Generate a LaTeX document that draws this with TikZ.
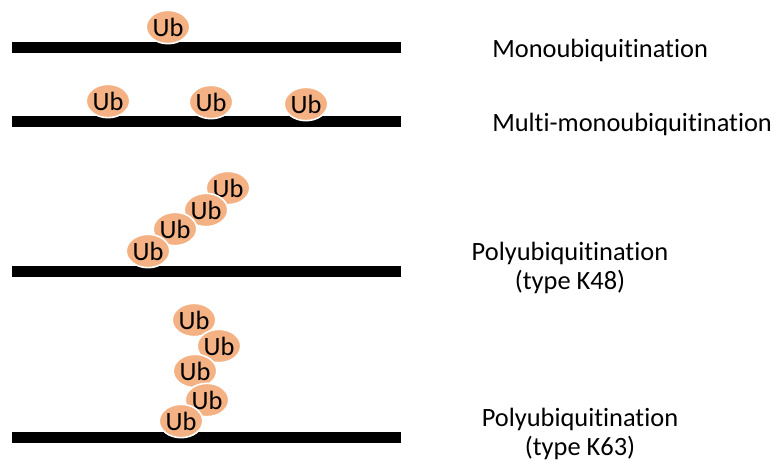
\documentclass[tikz,border=0pt]{standalone}
\usepackage{fontspec}
\setmainfont[Ligatures = NoCommon]{Carlito}
\usepackage{xcolor}
\definecolor{orangeub}{HTML}{F4B183}
\tikzstyle{ligne} = [line width = 8pt, color = black]
\tikzstyle{ub} = [ellipse, fill = orangeub, draw = white, line width = 1.2pt, inner sep = 0pt, minimum width = 28pt, minimum height = 25pt, font = \fontsize{19.8}{21.5}\selectfont]
\tikzstyle{etiquette} = [inner sep = 0pt, align = center, font = \fontsize{19.8}{21.5}\selectfont]
\usetikzlibrary{shapes.geometric, positioning}

\begin{document}
\begin{tikzpicture}[x = 0.75pt, y = -0.75pt]
    	\useasboundingbox (0, 0) rectangle (776, 464);
    	% Proteines
    	\foreach \y in {47.5, 121.5, 271.5, 437.5}
          	\draw[ligne] (12, \y) -- (401, \y);
    	% Mono
    	\node[ub] (mono1) at (168, 27) {Ub};
    	% Multi-mono
    	\foreach \x/\y [count = \i] in {108/101, 211/102, 306/104}
          	\node[ub] (multi\i) at (\x, \y) {Ub};
    	% Chaine K48
    	\foreach \x/\y [count = \i] in {228/188, 206/210, 175/229, 148/251}
          	\node[ub] (ksa\i) at (\x, \y) {Ub};
    	% Chaine K63
    	\foreach \x/\y [count = \i] in {194/320, 219/346, 195/371, 207/400, 181/421}
          	\node[ub] (ksb\i) at (\x, \y) {Ub};
    	% Écriture
    	\node[etiquette, anchor = base west] (tmono) at (492, 57) {Monoubiquitination};
    	\node[etiquette, anchor = base west] (tmulti) at (492, 131) {Multi-monoubiquitination};
    	\node[etiquette] (tksa) at (570, 268) {Polyubiquitination\\(type K48)};
    	\node[etiquette] (tksb) at (580, 434) {Polyubiquitination\\(type K63)};
\end{tikzpicture}
\end{document}
